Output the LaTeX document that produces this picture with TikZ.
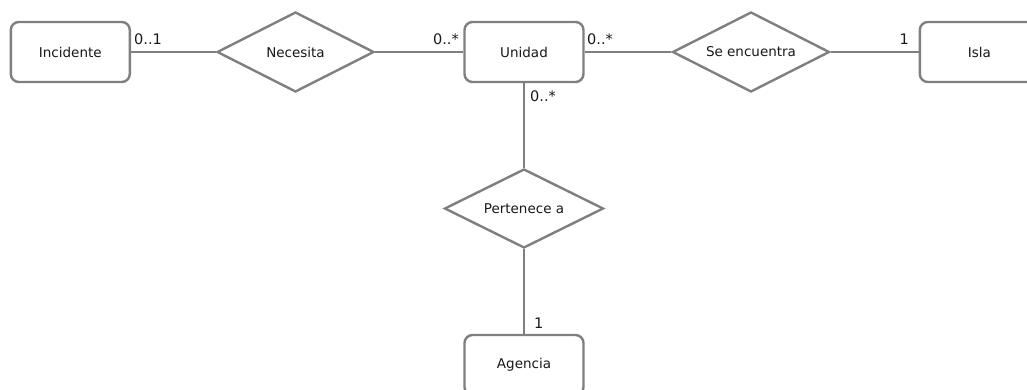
\documentclass[tikz,border=0pt]{standalone}
\usepackage{fontspec}
\setmainfont{DejaVu Sans}
\usetikzlibrary{shapes.geometric}
\definecolor{edgegray}{HTML}{7F7F7F}
\begin{document}
\begin{tikzpicture}[x=1pt,y=-1pt,
  entity/.style={draw=edgegray, line width=2.4pt, rounded corners=8pt, fill=white,
    minimum width=119pt, minimum height=60pt, inner sep=0pt,
    font=\fontsize{13.5}{15}\selectfont, text=black!90},
  rel/.style={draw=edgegray, line width=2.4pt, diamond, aspect=2, fill=white,
    minimum width=157pt, minimum height=80pt, inner sep=0pt,
    font=\fontsize{13.5}{15}\selectfont, text=black!90},
  conn/.style={draw=edgegray, line width=2.4pt},
  card/.style={font=\fontsize{14.5}{16}\selectfont, inner sep=0pt, text=black!90}]
\useasboundingbox (0,0) rectangle (1027,390);
\clip (0,0) rectangle (1027,390);
\node[entity] (incidente) at (70.3,52) {Incidente};
\node[rel] (necesita) at (295.5,52) {Necesita};
\node[entity] (unidad) at (524,52) {Unidad};
\node[rel] (encuentra) at (751,52) {Se encuentra};
\node[entity] (isla) at (979.3,52) {Isla};
\node[rel, minimum width=159pt, minimum height=79pt] (pertenece) at (524,208.5) {Pertenece a};
\node[entity] (agencia) at (524,365) {Agencia};
\draw[conn] (incidente) -- (necesita);
\draw[conn] (necesita) -- (unidad);
\draw[conn] (unidad) -- (encuentra);
\draw[conn] (encuentra) -- (isla);
\draw[conn] (unidad) -- (pertenece);
\draw[conn] (pertenece) -- (agencia);
% cardinalities
\node[card, anchor=base west] (l1) at (134,45) {0..1};
\node[card, anchor=base east] (l2) at (459,45) {0..*};
\node[card, anchor=base west] (l3) at (587,45) {0..*};
\node[card, anchor=base east] (l4) at (909,45) {1};
\node[card, anchor=base west] (l5) at (530,101.5) {0..*};
\node[card, anchor=base west] (l6) at (534,328) {1};
\end{tikzpicture}
\end{document}
